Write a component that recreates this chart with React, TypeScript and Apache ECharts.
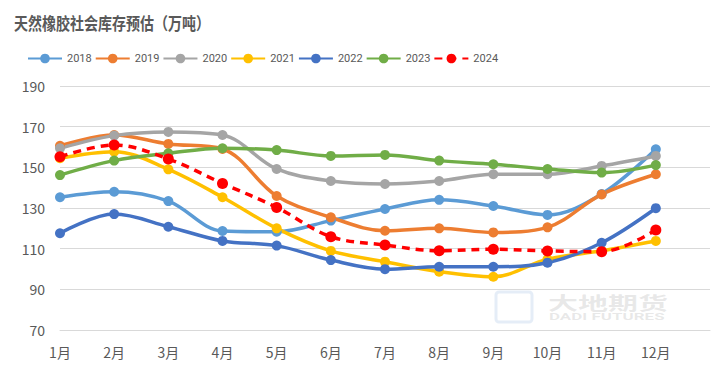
import React, { useEffect, useRef } from "react";
import * as echarts from "echarts";

const months = ["1月", "2月", "3月", "4月", "5月", "6月", "7月", "8月", "9月", "10月", "11月", "12月"];
const yTicks = { min: 70, max: 190, interval: 20 };

const s2018 = [135.3, 138.0, 133.4, 118.7, 118.3, 123.8, 129.5, 134.0, 131.0, 126.6, 136.9, 158.9];
const s2019 = [160.6, 165.9, 161.5, 159.0, 135.9, 125.4, 118.8, 120.0, 118.0, 120.5, 136.7, 146.6];
const s2020 = [159.4, 165.6, 167.4, 165.9, 149.2, 143.3, 141.8, 143.3, 146.6, 146.6, 150.7, 155.6];
const s2021 = [154.5, 157.7, 149.0, 135.3, 120.0, 108.9, 103.6, 98.7, 96.2, 104.8, 109.0, 113.8];
const s2022 = [117.6, 127.0, 120.8, 113.8, 111.5, 104.4, 99.9, 101.1, 101.1, 103.1, 112.9, 129.9];
const s2023 = [146.2, 153.3, 156.9, 159.4, 158.5, 155.6, 156.1, 153.3, 151.5, 149.2, 147.4, 151.1];
const s2024 = [155.2, 161.0, 154.1, 142.1, 130.3, 115.9, 111.8, 109.0, 109.7, 108.9, 108.5, 119.2];

const seriesDefs = [
  { name: "2018", data: s2018, color: "#5B9BD5", dashed: false },
  { name: "2019", data: s2019, color: "#ED7D31", dashed: false },
  { name: "2020", data: s2020, color: "#A5A5A5", dashed: false },
  { name: "2021", data: s2021, color: "#FFC000", dashed: false },
  { name: "2022", data: s2022, color: "#4472C4", dashed: false },
  { name: "2023", data: s2023, color: "#70AD47", dashed: false },
  { name: "2024", data: s2024, color: "#FF0000", dashed: true },
];

export default function App() {
  const ref = useRef<HTMLDivElement>(null);
  useEffect(() => {
    if (!ref.current) return;
    const chart = echarts.init(ref.current, null, { renderer: "svg" });
    const font = "'Microsoft YaHei', 'Noto Sans CJK SC', sans-serif";
    const wm = "rgba(150,150,150,0.22)";
    chart.setOption({
      animation: false,
      backgroundColor: "#FFFFFF",
      legend: {
        top: 48,
        left: 22,
        itemWidth: 34,
        itemHeight: 12,
        itemGap: 3,
        textStyle: { fontSize: 11, color: "#595959", fontFamily: "Roboto, sans-serif" },
        data: seriesDefs.map((s) => s.name),
      },
      grid: { left: 60, right: 13, top: 86, bottom: 43, containLabel: false },
      xAxis: {
        type: "category",
        boundaryGap: false,
        data: [...months, ""],
        axisLine: { lineStyle: { color: "#D9D9D9" } },
        axisTick: { show: false },
        axisLabel: { color: "#595959", fontSize: 14, fontFamily: font, margin: 15 },
        splitLine: { show: false },
      },
      yAxis: {
        type: "value",
        min: yTicks.min,
        max: yTicks.max,
        interval: yTicks.interval,
        axisLine: { show: false },
        axisTick: { show: false },
        axisLabel: { color: "#595959", fontSize: 14, fontFamily: font, margin: 15 },
        splitLine: { lineStyle: { color: "#D9D9D9", width: 1 } },
      },
      graphic: [
        {
          type: "text",
          x: 14,
          y: 14,
          scaleY: 1.2,
          style: { text: "天然橡胶社会库存预估（万吨）", fontSize: 14, fontWeight: "bold", fill: "#595959", fontFamily: font },
          z: 10,
        },
        {
          type: "text",
          x: 548,
          y: 292,
          scaleY: 0.62,
          style: { text: "大地期货", fontSize: 30, fontWeight: "bold", fill: wm, fontFamily: font },
          z: 0,
        },
        {
          type: "text",
          x: 549,
          y: 313,
          scaleY: 0.5,
          style: { text: "DADI FUTURES", fontSize: 17, fontWeight: "bold", fill: wm, fontFamily: "Roboto, sans-serif" },
          z: 0,
        },
        {
          type: "rect",
          x: 496,
          y: 292,
          shape: { width: 36, height: 30, r: 3 },
          style: { fill: "none", stroke: "rgba(170,195,230,0.3)", lineWidth: 3 },
          z: 0,
        },
      ],
      series: seriesDefs.map((s) => ({
        name: s.name,
        type: "line",
        data: s.data,
        smooth: 0.35,
        symbol: "circle",
        symbolSize: s.dashed ? 11 : 10,
        color: s.color,
        lineStyle: { width: 3.5, color: s.color, type: s.dashed ? [8, 6] : "solid" },
        itemStyle: { color: s.color },
        z: s.dashed ? 3 : 2,
      })),
    });
    return () => chart.dispose();
  }, []);
  return <div ref={ref} style={{ position: "fixed", left: 0, top: 0, width: 723, height: 373 }} />;
}
